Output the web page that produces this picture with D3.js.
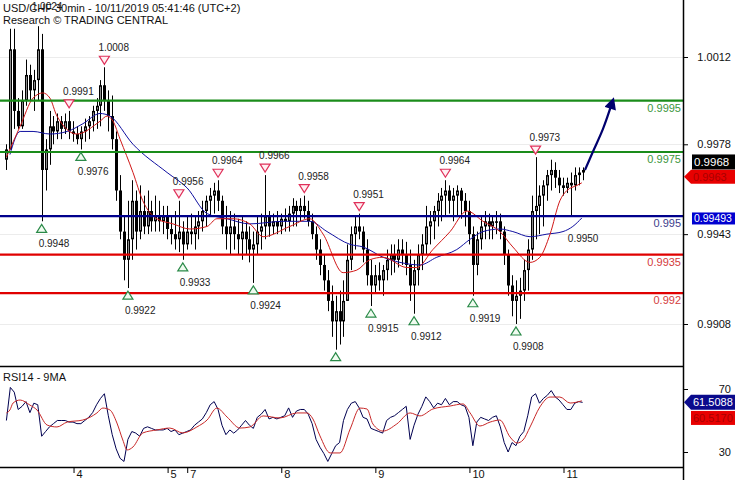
<!DOCTYPE html>
<html><head><meta charset="utf-8">
<script src="https://cdn.jsdelivr.net/npm/d3@7"></script>
<style>
body{margin:0;background:#fff}
svg{display:block}
text{font-family:"Liberation Sans",Arial,sans-serif}
</style>
</head><body>
<svg id="c" width="735" height="480"></svg>
<script>
// ---------------- DATA (hourly bars, index 0 = Oct 3 07:00, UTC+2) ----------------
const opens = [0.9972,0.9976,1.0015,0.9991,0.9985,0.9995,1.0005,0.9999,1.0003,1.0015,
0.9968,0.9976,0.9985,0.9983,0.9987,0.9984,0.9987,0.9983,0.9982,0.9980,
0.9983,0.9985,0.9987,0.9991,0.9993,1.0001,0.9995,0.9989,0.9980,0.9960,
0.9944,0.9933,0.9941,0.9956,0.9944,0.9952,0.9946,0.9952,0.9948,0.9950,
0.9948,0.9950,0.9945,0.9943,0.9941,0.9944,0.9939,0.9944,0.9943,0.9946,
0.9948,0.9952,0.9956,0.9958,0.9960,0.9956,0.9946,0.9943,0.9946,0.9943,
0.9941,0.9944,0.9941,0.9937,0.9939,0.9944,0.9946,0.9950,0.9946,0.9948,
0.9946,0.9949,0.9948,0.9951,0.9954,0.9952,0.9954,0.9952,0.9948,0.9943,
0.9937,0.9931,0.9925,0.9917,0.9909,0.9913,0.9909,0.9917,0.9933,0.9943,
0.9946,0.9944,0.9937,0.9927,0.9923,0.9927,0.9925,0.9929,0.9933,0.9935,
0.9933,0.9937,0.9935,0.9931,0.9923,0.9929,0.9935,0.9939,0.9946,0.9948,
0.9952,0.9956,0.9958,0.9960,0.9956,0.9958,0.9960,0.9956,0.9952,0.9943,
0.9931,0.9941,0.9946,0.9948,0.9946,0.9948,0.9948,0.9944,0.9935,0.9923,
0.9917,0.9919,0.9921,0.9929,0.9937,0.9952,0.9954,0.9958,0.9962,0.9966,
0.9968,0.9965,0.9962,0.9961,0.9963,0.9962,0.9966,0.9967];
const highs = [0.9978,1.0023,1.0023,0.9996,0.9999,1.0011,1.0009,1.0007,1.0024,1.0021,
0.9980,0.9991,0.9989,0.9990,0.9989,0.9990,0.9991,0.9987,0.9985,0.9985,
0.9988,0.9989,0.9993,0.9996,1.0003,1.0008,0.9999,0.9997,0.9983,0.9966,
0.9950,0.9956,0.9964,0.9960,0.9962,0.9958,0.9960,0.9956,0.9958,0.9956,
0.9954,0.9954,0.9950,0.9952,0.9956,0.9948,0.9950,0.9951,0.9950,0.9952,
0.9956,0.9958,0.9961,0.9963,0.9964,0.9958,0.9954,0.9952,0.9951,0.9949,
0.9950,0.9948,0.9946,0.9944,0.9950,0.9951,0.9966,0.9952,0.9951,0.9952,
0.9951,0.9953,0.9954,0.9957,0.9956,0.9957,0.9958,0.9956,0.9951,0.9946,
0.9941,0.9935,0.9929,0.9923,0.9919,0.9921,0.9925,0.9939,0.9946,0.9950,
0.9951,0.9946,0.9941,0.9933,0.9931,0.9932,0.9931,0.9937,0.9939,0.9939,
0.9941,0.9941,0.9940,0.9937,0.9933,0.9939,0.9943,0.9954,0.9952,0.9954,
0.9959,0.9961,0.9964,0.9962,0.9961,0.9962,0.9961,0.9959,0.9956,0.9946,
0.9944,0.9950,0.9952,0.9951,0.9950,0.9952,0.9951,0.9946,0.9937,0.9927,
0.9925,0.9926,0.9933,0.9941,0.9958,0.9973,0.9962,0.9964,0.9968,0.9972,
0.9971,0.9968,0.9965,0.9965,0.9967,0.9969,0.9969,0.9969];
const lows = [0.9968,0.9976,0.9984,0.9984,0.9984,0.9993,0.9995,0.9991,0.9995,0.9948,
0.9960,0.9970,0.9978,0.9980,0.9980,0.9982,0.9980,0.9979,0.9978,0.9976,
0.9979,0.9980,0.9983,0.9984,0.9985,0.9991,0.9983,0.9976,0.9956,0.9941,
0.9925,0.9922,0.9933,0.9937,0.9941,0.9943,0.9943,0.9944,0.9944,0.9944,
0.9943,0.9941,0.9939,0.9937,0.9936,0.9933,0.9937,0.9939,0.9937,0.9941,
0.9944,0.9946,0.9950,0.9951,0.9952,0.9943,0.9937,0.9935,0.9937,0.9935,
0.9933,0.9935,0.9932,0.9924,0.9935,0.9937,0.9941,0.9942,0.9943,0.9943,
0.9943,0.9944,0.9944,0.9946,0.9946,0.9948,0.9949,0.9946,0.9941,0.9933,
0.9927,0.9921,0.9913,0.9903,0.9898,0.9900,0.9903,0.9917,0.9929,0.9937,
0.9941,0.9932,0.9923,0.9915,0.9920,0.9921,0.9919,0.9925,0.9927,0.9928,
0.9930,0.9931,0.9927,0.9917,0.9912,0.9923,0.9929,0.9935,0.9939,0.9941,
0.9946,0.9948,0.9950,0.9951,0.9948,0.9950,0.9949,0.9946,0.9939,0.9919,
0.9927,0.9937,0.9941,0.9941,0.9941,0.9943,0.9941,0.9931,0.9919,0.9911,
0.9908,0.9910,0.9917,0.9921,0.9933,0.9941,0.9943,0.9946,0.9956,0.9960,
0.9961,0.9959,0.9958,0.9959,0.9950,0.9960,0.9962,0.9964];
const closes = [0.9976,1.0015,0.9991,0.9985,0.9995,1.0005,0.9999,1.0003,1.0015,0.9968,
0.9976,0.9985,0.9983,0.9987,0.9984,0.9987,0.9983,0.9982,0.9980,0.9983,
0.9985,0.9987,0.9991,0.9993,1.0001,0.9995,0.9989,0.9980,0.9960,0.9944,
0.9933,0.9941,0.9956,0.9944,0.9952,0.9946,0.9952,0.9948,0.9950,0.9948,
0.9950,0.9945,0.9943,0.9941,0.9944,0.9939,0.9944,0.9943,0.9946,0.9948,
0.9952,0.9956,0.9958,0.9960,0.9956,0.9946,0.9943,0.9946,0.9943,0.9941,
0.9944,0.9941,0.9937,0.9939,0.9944,0.9946,0.9950,0.9946,0.9948,0.9946,
0.9949,0.9948,0.9951,0.9954,0.9952,0.9954,0.9952,0.9948,0.9943,0.9937,
0.9931,0.9925,0.9917,0.9909,0.9913,0.9909,0.9917,0.9933,0.9943,0.9946,
0.9944,0.9937,0.9927,0.9923,0.9927,0.9925,0.9929,0.9933,0.9935,0.9933,
0.9937,0.9935,0.9931,0.9923,0.9929,0.9935,0.9939,0.9946,0.9948,0.9952,
0.9956,0.9958,0.9960,0.9956,0.9958,0.9960,0.9956,0.9952,0.9943,0.9931,
0.9941,0.9946,0.9948,0.9946,0.9948,0.9948,0.9944,0.9935,0.9923,0.9917,
0.9919,0.9921,0.9929,0.9937,0.9952,0.9954,0.9958,0.9962,0.9966,0.9968,
0.9965,0.9962,0.9961,0.9963,0.9962,0.9966,0.9967,0.9968];

// moving averages (bar index, price)
const maRedIdx = [0,3.5,6.8,9.3,11.1,12.9,18,23.9,25.7,27.2,29,32.3,34.8,38.4,42.5,46.8,51.2,53.7,57.8,62.1,65.5,72.3,77.4,80.8,85.9,89.4,92.7,96.1,102.2,104.7,108.8,113.2,117.5,121.6,125.9,129.2,133.6,136.1,138.7,141.2,143,145.6,146.8];
const maRedVal = [0.9973,0.9985,0.9996,0.9998,0.9996,0.9989,0.9982,0.9987,0.9989,0.9987,0.9980,0.9967,0.9956,0.9949,0.9947,0.9945,0.9946,0.9949,0.9949,0.9947,0.9942,0.9946,0.9949,0.9943,0.9928,0.9929,0.9933,0.9934,0.9930,0.9930,0.9937,0.9944,0.9952,0.9948,0.9944,0.9938,0.9932,0.9934,0.9943,0.9956,0.9960,0.9962,0.9963];
const maBlueIdx = [0.9,3.5,6.8,11.1,15.5,19.5,23.9,26.4,32.3,41,46.1,51.2,56.3,62.1,70.6,77.4,81.8,87.7,91,96.1,100.4,105.5,109.8,114.9,118.3,121.6,125.9,129.2,133.6,137.9,142,144.5,146.8];
const maBlueVal = [0.9974,0.9983,0.9983,0.9982,0.9983,0.9986,0.9990,0.9989,0.9978,0.9967,0.9961,0.9951,0.9949,0.9947,0.9948,0.9948,0.9944,0.9939,0.9938,0.9934,0.9932,0.9931,0.9934,0.9937,0.9941,0.9944,0.9945,0.9944,0.9942,0.9943,0.9944,0.9946,0.99493];

// RSI(14), one value per bar, and its 9-period MA
const rsi = [50,71,68,57,59,62,55,61,60,40,
43,46,48,50,50,50,49,49,48,48,
50,52,55,60,64,67,53,41,32,26,
24,38,43,42,40,45,46,45,44,44,
44,45,43,44,41,42,43,44,47,49,
51,55,60,62,57,47,41,44,42,44,
47,50,47,45,52,54,57,51,52,51,
52,53,58,52,56,57,57,54,48,38,
33,29,24,29,34,36,50,57,61,62,
58,52,51,45,44,43,42,50,52,53,
55,57,59,38,47,54,59,65,62,58,
61,60,64,60,62,62,60,59,52,34,
49,52,51,50,52,53,46,36,30,36,
34,40,43,53,65,67,61,64,66,69,
65,63,60,57,57,61,62,61.5088];
const rsiMaIdx = [0,0.9,1.7,3.5,6,7.8,10.4,12.9,15.5,19.5,23.1,24.6,26.4,28.2,29.7,30.8,32.3,34.8,38.4,41.7,45,48.6,51.2,53.7,56.3,59.6,62.1,65.5,69.8,74.1,76.7,78.2,80,82.6,85.1,87.7,90.2,92,93.5,96.1,99.6,103,105.5,108.8,113.2,116.5,118.3,120.8,123.4,125.9,128.5,130.3,131.8,133.6,136.1,138.7,141.2,143.8,146.8];
const rsiMaVal = [54.8,56.7,61.1,63,59.8,56.7,47.1,45.9,49,50.3,54.8,57.9,56.7,48.4,37.6,31.3,33.2,42.1,44,45.2,42.1,45.9,50.3,57.9,52.2,45.2,45.9,52.9,51.6,54.8,54.8,51,40.2,29.4,29.4,44.6,57.9,57.3,47.8,43.3,47.8,54.8,52.9,57.3,59.2,60.5,54.8,46.5,49,50.3,39.5,35.7,37.6,45.9,58.6,64.9,64.9,61.1,62.5];
const rsiMaLast = 60.5170;

// support / resistance levels
const levels = [0.9995,0.9975,0.995,0.9935,0.992];
const levelLabels = ["0.9995","0.9975","0.995","0.9935","0.992"];
const levelKinds = ["res","res","pivot","sup","sup"];

// swing markers
const highMarkIdx = [8,16,25,44,54,66,76,90,112,135];
const highMarkVal = [1.0024,0.9991,1.0008,0.9956,0.9964,0.9966,0.9958,0.9951,0.9964,0.9973];
const highMarkTri = [false,true,true,true,true,true,true,true,true,true];
const lowMarkIdx = [9,19,31,45,63,84,93,104,119,130,144];
const lowMarkVal = [0.9948,0.9976,0.9922,0.9933,0.9924,0.9898,0.9915,0.9912,0.9919,0.9908,0.9950];
const lowMarkTri = [true,true,true,true,true,true,true,true,true,true,false];

// forecast arrow (bar index, price)
const arrowIdx = [147.6,149.6,152.2,154.7];
const arrowVal = [0.9968,0.9975,0.9984,0.9995];

// axes
const priceTicks = [1.0012,0.9978,0.9943,0.9908];
const rsiTicks = [70,30];
const dayTickIdx = [17,41,46,70,94,118,142];
const dayLabels = ["4","5","7","8","9","10","11"];

// ---------------- DRAWING ----------------
const svg = d3.select("#c");
const AX = 683, MAIN_BOTTOM = 366, RSI_BOTTOM = 467;
const x = d3.scaleLinear().domain([0,147]).range([6.4,582.6]);
const y = d3.scaleLinear().domain([0.9908,1.0012]).range([324,57]);
const yR = d3.scaleLinear().domain([30,70]).range([452,389]);
const colors = {res:"#1a8c1a", pivot:"#00008c", sup:"#e00000"};
const labelColors = {res:"#3b963b", pivot:"#3c3c8c", sup:"#d43c3c"};

const defs = svg.append("defs");
defs.append("clipPath").attr("id","clipMain").append("rect").attr("x",0).attr("y",0).attr("width",AX).attr("height",MAIN_BOTTOM);
defs.append("clipPath").attr("id","clipRsi").append("rect").attr("x",0).attr("y",MAIN_BOTTOM).attr("width",AX).attr("height",RSI_BOTTOM-MAIN_BOTTOM);
defs.append("marker").attr("id","ah").attr("viewBox","0 0 10 10").attr("refX",7).attr("refY",5)
  .attr("markerWidth",6).attr("markerHeight",5.5).attr("orient","auto").attr("markerUnits","strokeWidth")
  .append("path").attr("d","M0,0 L10,5 L0,10 z").attr("fill","#00006e");

const main = svg.append("g").attr("clip-path","url(#clipMain)");

// faint grid
main.selectAll("line.grid").data(priceTicks).join("line")
  .attr("x1",0).attr("x2",AX).attr("y1",d=>Math.round(y(d))+0.5).attr("y2",d=>Math.round(y(d))+0.5)
  .attr("stroke","#ececec").attr("stroke-width",1);

// candles (bars: thin wick, solid body)
const bars = d3.range(closes.length).map(i=>({i,o:opens[i],h:highs[i],l:lows[i],c:closes[i]}));
main.selectAll("line.wick").data(bars).join("line")
  .attr("x1",d=>Math.round(x(d.i))+0.5).attr("x2",d=>Math.round(x(d.i))+0.5)
  .attr("y1",d=>y(d.h)).attr("y2",d=>y(d.l)).attr("stroke","#000").attr("stroke-width",1);
main.selectAll("rect.body").data(bars).join("rect")
  .attr("x",d=>Math.round(x(d.i))-1).attr("width",3)
  .attr("y",d=>y(Math.max(d.o,d.c))).attr("height",d=>Math.max(1.5,Math.abs(y(d.o)-y(d.c))))
  .attr("fill","#000");
// small hollow mark inside rising bodies (up candles)
main.selectAll("rect.up").data(bars.filter(d=>d.c>d.o && (y(d.o)-y(d.c))>5)).join("rect")
  .attr("x",d=>Math.round(x(d.i))).attr("width",1)
  .attr("y",d=>y(d.c)+1.5).attr("height",d=>Math.max(0,y(d.o)-y(d.c)-3))
  .attr("fill","#fff").attr("opacity",0.55);

// moving averages
const maLine = d3.line().x(d=>x(d[0])).y(d=>y(d[1])).curve(d3.curveMonotoneX);
main.append("path").datum(maBlueIdx.map((v,i)=>[v,maBlueVal[i]]))
  .attr("d",maLine).attr("fill","none").attr("stroke","#1010a0").attr("stroke-width",1);
main.append("path").datum(maRedIdx.map((v,i)=>[v,maRedVal[i]]))
  .attr("d",maLine).attr("fill","none").attr("stroke","#d01818").attr("stroke-width",1);

// level lines
main.selectAll("line.level").data(levels).join("line")
  .attr("x1",0).attr("x2",AX).attr("y1",d=>y(d)).attr("y2",d=>y(d))
  .attr("stroke",(d,i)=>colors[levelKinds[i]]).attr("stroke-width",2.2);
main.selectAll("text.level").data(levels).join("text")
  .attr("x",AX-2).attr("y",d=>y(d)+11).attr("text-anchor","end").attr("font-size",11)
  .attr("fill",(d,i)=>labelColors[levelKinds[i]]).text((d,i)=>levelLabels[i]);

// high markers
const hm = highMarkIdx.map((v,i)=>({i:v,p:highMarkVal[i],tri:highMarkTri[i]}));
main.selectAll("path.hm").data(hm.filter(d=>d.tri)).join("path")
  .attr("d",d=>{const cx=x(d.i), cy=y(d.p); return `M${cx-5},${cy-11}L${cx+5},${cy-11}L${cx},${cy-3}Z`;})
  .attr("fill","#fff0f3").attr("stroke","#e0305a").attr("stroke-width",1.2);
main.selectAll("text.hm").data(hm).join("text")
  .attr("x",d=>x(d.i)-6).attr("y",d=>y(d.p)-16).attr("font-size",10).attr("fill","#222")
  .text(d=>d.p.toFixed(4));

// low markers
const lm = lowMarkIdx.map((v,i)=>({i:v,p:lowMarkVal[i],tri:lowMarkTri[i]}));
main.selectAll("path.lm").data(lm.filter(d=>d.tri)).join("path")
  .attr("d",d=>{const cx=x(d.i), cy=y(d.p); return `M${cx-5},${cy+11}L${cx+5},${cy+11}L${cx},${cy+3}Z`;})
  .attr("fill","#f0fbf0").attr("stroke","#2a8a48").attr("stroke-width",1.2);
main.selectAll("text.lm").data(lm).join("text")
  .attr("x",d=>x(d.i)-3).attr("y",d=>y(d.p)+26).attr("font-size",10).attr("fill","#222")
  .text(d=>d.p.toFixed(4));

// forecast arrow
main.append("path").datum(arrowIdx.map((v,i)=>[v,arrowVal[i]]))
  .attr("d",d3.line().x(d=>x(d[0])).y(d=>y(d[1])).curve(d3.curveCatmullRom))
  .attr("fill","none").attr("stroke","#00006e").attr("stroke-width",2.2).attr("marker-end","url(#ah)");

// RSI panel
const rsiG = svg.append("g").attr("clip-path","url(#clipRsi)");
rsiG.append("path").datum(rsi.map((v,i)=>[i,v]))
  .attr("d",d3.line().x(d=>x(d[0])).y(d=>yR(d[1])))
  .attr("fill","none").attr("stroke","#000050").attr("stroke-width",1);
rsiG.append("path").datum(rsiMaIdx.map((v,i)=>[v,rsiMaVal[i]]))
  .attr("d",d3.line().x(d=>x(d[0])).y(d=>yR(d[1])).curve(d3.curveMonotoneX))
  .attr("fill","none").attr("stroke","#c82828").attr("stroke-width",1);
svg.append("text").attr("x",3).attr("y",381).attr("font-size",11).attr("fill","#111").text("RSI14 - 9MA");

// frame lines
svg.append("line").attr("x1",0).attr("x2",AX).attr("y1",MAIN_BOTTOM+0.5).attr("y2",MAIN_BOTTOM+0.5).attr("stroke","#000").attr("stroke-width",1.5);
svg.append("line").attr("x1",0).attr("x2",AX).attr("y1",RSI_BOTTOM+0.5).attr("y2",RSI_BOTTOM+0.5).attr("stroke","#000").attr("stroke-width",1.5);

// price axis
const pAxis = svg.append("g").attr("transform",`translate(${AX},0)`)
  .call(d3.axisRight(y).tickValues(priceTicks).tickFormat(d3.format(".4f")).tickSizeInner(5).tickSizeOuter(0).tickPadding(43));
pAxis.select(".domain").remove();
pAxis.selectAll("text").attr("text-anchor","end").attr("font-size",11).attr("font-family","Liberation Sans, Arial, sans-serif").attr("fill","#111");
pAxis.selectAll("line").attr("stroke","#000");

// rsi axis
const rAxis = svg.append("g").attr("transform",`translate(${AX},0)`)
  .call(d3.axisRight(yR).tickValues(rsiTicks).tickFormat(d3.format("d")).tickSizeInner(5).tickSizeOuter(0).tickPadding(43));
rAxis.select(".domain").remove();
rAxis.selectAll("text").attr("text-anchor","end").attr("font-size",11).attr("font-family","Liberation Sans, Arial, sans-serif").attr("fill","#111");
rAxis.selectAll("line").attr("stroke","#000");

// day axis
const dAxis = svg.append("g").attr("transform",`translate(0,${RSI_BOTTOM})`)
  .call(d3.axisBottom(x).tickValues(dayTickIdx).tickFormat((d,i)=>dayLabels[i]).tickSizeInner(6).tickSizeOuter(0));
dAxis.select(".domain").remove();
dAxis.selectAll(".tick line").attr("stroke","#000").attr("transform","translate(0.5,0)");
dAxis.selectAll(".tick text").attr("text-anchor","start").attr("x",3).attr("y",3).attr("dy","0.71em")
  .attr("font-size",11).attr("font-family","Liberation Sans, Arial, sans-serif").attr("fill","#111");

// vertical axis line
svg.append("line").attr("x1",AX+0.5).attr("x2",AX+0.5).attr("y1",0).attr("y2",480).attr("stroke","#000").attr("stroke-width",1.5);

// value tags on the price axis
const lastClose = closes[closes.length-1];
const lastRed = maRedVal[maRedVal.length-1];
const lastBlue = maBlueVal[maBlueVal.length-1];
function tag(cy, h, fill, txt, txtFill, pointed, left, fs){
  const g = svg.append("g");
  const top = cy - h/2;
  if(pointed){
    g.append("path").attr("d",`M${AX+1},${cy}L${left},${top}L735,${top}L735,${top+h}L${left},${top+h}Z`).attr("fill",fill);
  } else {
    g.append("rect").attr("x",left).attr("y",top).attr("width",735-left).attr("height",h).attr("fill",fill);
  }
  g.append("text").attr("x",left+2).attr("y",cy+4).attr("font-size",fs).attr("fill",txtFill).text(txt);
}
tag(y(lastRed)-6, 14, "#e80000", lastRed.toFixed(4), "#a80000", true, 691, 11);
tag(y(lastClose)-8, 15, "#000", lastClose.toFixed(4), "#fff", false, 692, 11.5);
tag(y(lastBlue)+0.5, 12, "#0000d0", lastBlue.toFixed(5), "#fff", false, 692, 10.5);
tag(yR(rsiMaLast)+14, 14, "#e80000", rsiMaLast.toFixed(4), "#a80000", false, 691, 11);
tag(yR(rsi[rsi.length-1]), 15, "#0a0a8c", rsi[rsi.length-1].toFixed(4), "#fff", true, 691, 11);

// title
svg.append("text").attr("x",3).attr("y",12).attr("font-size",11).attr("fill","#111").text("USD/CHF 30min - 10/11/2019 05:41:46 (UTC+2)");
svg.append("text").attr("x",3).attr("y",24).attr("font-size",11).attr("fill","#111").text("Research © TRADING CENTRAL");
</script>
</body></html>
